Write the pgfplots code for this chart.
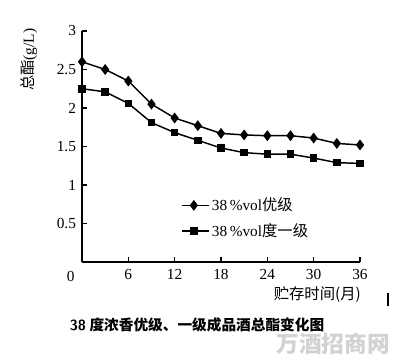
\documentclass[border=0pt]{standalone}
\usepackage{fontspec}
\setmainfont{Liberation Serif}
\newfontfamily\cjk{Noto Sans CJK SC}
\usepackage{pgfplots}
\pgfplotsset{compat=1.18}
\newcommand{\fs}{\fontsize{11.5pt}{13pt}\selectfont}
\begin{document}
\begin{tikzpicture}
\path[use as bounding box] (0,0) rectangle (306pt,269.25pt);
\begin{axis}[
  at={(61.5pt,72.75pt)}, anchor=south west,
  scale only axis, width=208.5pt, height=173.25pt,
  xmin=0, xmax=36, ymin=0, ymax=3,
  axis lines*=left,
  axis line style={line width=0.9pt},
  xtick={6,12,...,36}, ytick={0.5,1,...,3},
  tick align=inside, major tick length=4pt,
  tick style={line width=0.8pt, black},
  /pgf/number format/assume math mode=true,
  tick label style={font=\fs},
  yticklabel style={xshift=-1pt},
  xticklabel style={yshift=-2pt},
  xlabel={{\cjk 贮存时间(月)}},
  ylabel={{\cjk 总酯}(g/L)},
  every axis x label/.style={at={(rel axis cs:1.02,-0.143)}, anchor=east, font=\fs},
  every axis y label/.style={at={(rel axis cs:-0.19,0.875)}, rotate=90, anchor=center, font=\fs},
  legend style={draw=none, fill=none, at={(axis cs:12.8,0.87)}, anchor=north west,
    font=\fs, row sep=4pt, inner sep=0pt},
  legend cell align=left,
  legend image code/.code={\draw[mark repeat=2,mark phase=2] plot coordinates {(0pt,0pt)(9pt,0pt)(20pt,0pt)};},
  clip=false,
]
\addplot[black, line width=1.1pt, mark=diamond*, mark size=3.2pt, mark options={solid, fill=black}]
coordinates {(0,2.60)(3,2.50)(6,2.35)(9,2.05)(12,1.87)(15,1.77)(18,1.67)(21,1.65)(24,1.64)(27,1.64)(30,1.61)(33,1.54)(36,1.52)};
\addlegendentry{38\,\%vol{\cjk 优级}}
\addplot[black, line width=1.1pt, mark=square*, mark size=2.3pt, mark options={solid, fill=black}]
coordinates {(0,2.25)(3,2.21)(6,2.06)(9,1.81)(12,1.68)(15,1.58)(18,1.48)(21,1.42)(24,1.40)(27,1.40)(30,1.35)(33,1.29)(36,1.28)};
\addlegendentry{38\,\%vol{\cjk 度一级}}
\node[anchor=north east, font=\fs, inner sep=2pt] at (axis cs:-0.6,-0.08) {0};
\end{axis}
\node[font=\fontsize{11pt}{12pt}\selectfont\bfseries] at (147.75pt, 25.5pt) {\textsf{38} {\cjk\bfseries 度浓香优级、一级成品酒总酯变化图}};
\node[text=gray!35, font=\fontsize{17pt}{18pt}\selectfont\cjk\bfseries, anchor=south] at (250pt,0pt) {万酒招商网};
\draw[line width=1.1pt] (291pt,49.5pt) -- (291pt,39.75pt);
\end{tikzpicture}
\end{document}
